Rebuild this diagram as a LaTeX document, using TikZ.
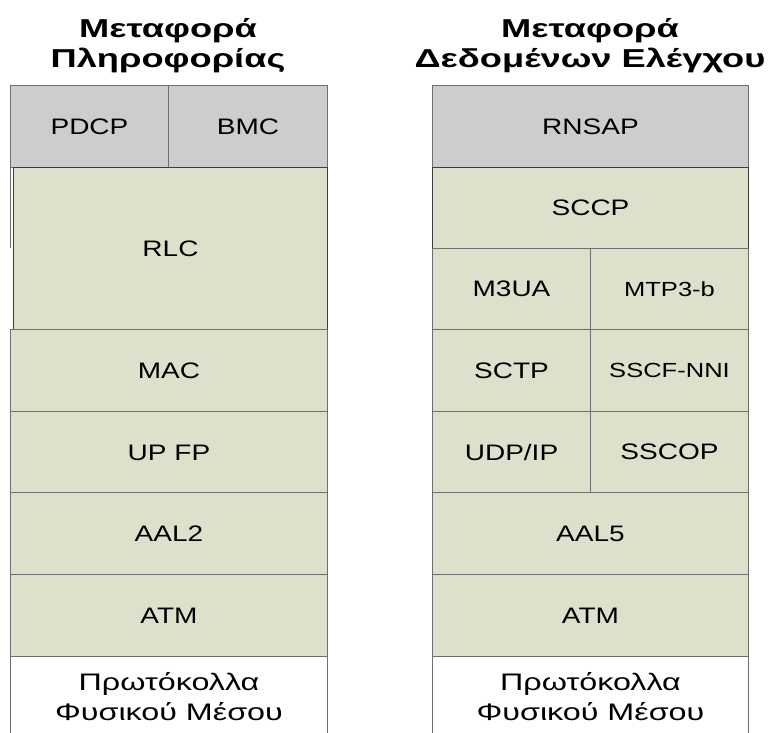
\documentclass[tikz,border=0pt]{standalone}
\usepackage{fontspec}
\setmainfont{Liberation Sans}[FakeStretch=1.25]
\newfontfamily\titlefont{Liberation Sans}[FakeStretch=1.4]
\newfontfamily\phyfont{Liberation Sans}[FakeStretch=1.35]
\usetikzlibrary{positioning}
\definecolor{layergreen}{RGB}{221, 225, 204}
\definecolor{layergray}{RGB}{205, 205, 205}
\definecolor{edgegray}{RGB}{110, 110, 110}
\definecolor{edgedark}{RGB}{60, 60, 60}
\tikzset{
  cell/.style={
    draw=edgegray, line width=1bp, fill=layergreen,
    anchor=north west, inner sep=0pt,
    minimum height=82bp,
    font=\fontsize{22.5}{26}\selectfont,
    align=center
  },
  topcell/.style={cell, fill=layergray},
  phycell/.style={cell, fill=white, minimum height=80bp, font=\phyfont\fontsize{24}{30}\selectfont},
  smallcell/.style={cell, font=\fontsize{20.5}{24}\selectfont},
  title/.style={font=\titlefont\bfseries\fontsize{26}{30}\selectfont, align=center}
}

\begin{document}
\begin{tikzpicture}[x=1bp, y=-1bp]
\useasboundingbox (0,0) rectangle (770,733);

% Titles
\node[title] (titleL) at (168, 46) {Μεταφορά\\Πληροφορίας};
\node[title] (titleR) at (590, 46) {Μεταφορά\\Δεδομένων Ελέγχου};

% Left stack: user plane
\node[topcell, minimum width=158bp] (pdcp) at (10, 85) {PDCP};
\node[topcell, minimum width=159bp] (bmc) at (168, 85) {BMC};
\draw[edgegray, line width=1bp] (10, 167) -- (10, 248);
\node[cell, draw=edgedark, minimum width=314bp, minimum height=162bp] (rlc) at (13, 167) {RLC};
\node[cell, minimum width=317bp] (mac) at (10, 329) {MAC};
\node[cell, minimum width=317bp] (upfp) at (10, 411) {UP FP};
\node[cell, minimum width=317bp] (aal2) at (10, 492) {AAL2};
\node[cell, minimum width=317bp] (atmL) at (10, 574) {ATM};
\node[phycell, minimum width=317bp] (phyL) at (10, 656) {Πρωτόκολλα\\Φυσικού Μέσου};

% Right stack: control plane
\node[topcell, minimum width=316bp] (rnsap) at (432, 85) {RNSAP};
\node[cell, draw=edgedark, minimum width=316bp, minimum height=81bp] (sccp) at (432, 167) {SCCP};
\node[cell, minimum width=158bp, minimum height=81bp] (m3ua) at (432, 248) {M3UA};
\node[smallcell, minimum width=158bp, minimum height=81bp] (mtp3b) at (590, 248) {MTP3-b};
\node[cell, minimum width=158bp] (sctp) at (432, 329) {SCTP};
\node[smallcell, minimum width=158bp] (sscf) at (590, 329) {SSCF-NNI};
\node[cell, minimum width=158bp, minimum height=81bp] (udpip) at (432, 411) {UDP/IP};
\node[cell, minimum width=158bp, minimum height=81bp] (sscop) at (590, 411) {SSCOP};
\node[cell, minimum width=316bp] (aal5) at (432, 492) {AAL5};
\node[cell, minimum width=316bp] (atmR) at (432, 574) {ATM};
\node[phycell, minimum width=316bp] (phyR) at (432, 656) {Πρωτόκολλα\\Φυσικού Μέσου};

\end{tikzpicture}
\end{document}
